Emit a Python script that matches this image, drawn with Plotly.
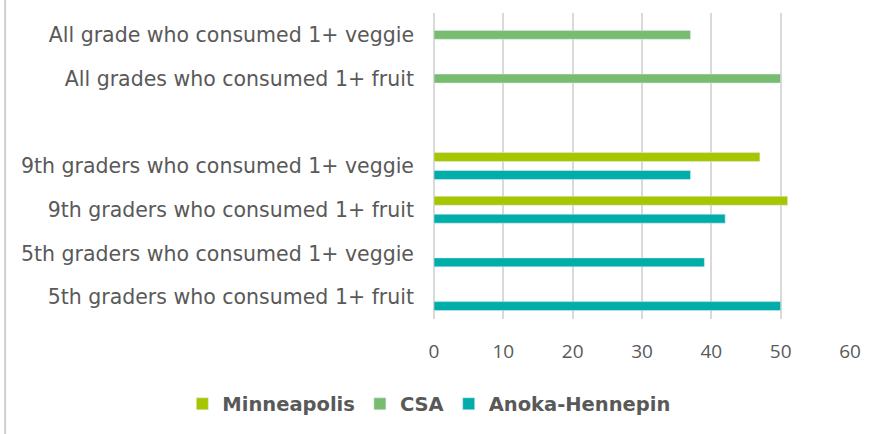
import plotly.graph_objects as go

# categories bottom -> top (blank row separates the two groups)
categories = [
    "5th graders who consumed 1+ fruit",
    "5th graders who consumed 1+ veggie",
    "9th graders who consumed 1+ fruit",
    "9th graders who consumed 1+ veggie",
    " ",
    "All grades who consumed 1+ fruit",
    "All grade who consumed 1+ veggie",
]
minneapolis = [None, None, 51, 47, None, None, None]
csa = [None, None, None, None, None, 50, 37]
anoka_hennepin = [50, 39, 42, 37, None, None, None]
x_ticks = [0, 10, 20, 30, 40, 50, 60]

text_col = "#595959"
grid_col = "#D9D9D9"

fig = go.Figure()
# horizontal groups stack first trace at the bottom
fig.add_trace(go.Bar(y=categories, x=anoka_hennepin, name="Anoka-Hennepin",
                     orientation="h", marker_color="#00ADA9"))
fig.add_trace(go.Bar(y=categories, x=csa, name="CSA",
                     orientation="h", marker_color="#78BD6F"))
fig.add_trace(go.Bar(y=categories, x=minneapolis, name="Minneapolis",
                     orientation="h", marker_color="#A6C600"))

fig.update_layout(
    width=882, height=434,
    margin=dict(l=434, r=32, t=13, b=114),
    barmode="group", bargap=0.385, bargroupgap=0,
    paper_bgcolor="white", plot_bgcolor="white",
    font=dict(family="DejaVu Sans", color=text_col),
    legend=dict(orientation="h", traceorder="reversed",
                x=-0.605, xanchor="left", y=-0.274, yanchor="middle",
                font=dict(size=19.5, weight="bold", color=text_col)),
    showlegend=True,
)
fig.update_xaxes(range=[0, 60], tickvals=x_ticks, showgrid=True, gridcolor=grid_col,
                 gridwidth=1.5, zeroline=True, zerolinecolor=grid_col, zerolinewidth=1.5,
                 tickfont=dict(family="Open Sans", size=19, color=text_col),
                 ticklabelstandoff=19, automargin=False, fixedrange=True)
fig.update_yaxes(categoryorder="array", categoryarray=categories, showgrid=False,
                 tickfont=dict(size=20.5, color=text_col), ticklabelstandoff=19,
                 automargin=False, fixedrange=True)

# thin chart-area border on the left
fig.add_shape(type="line", xref="paper", yref="paper", x0=-1.031, x1=-1.031,
              y0=-0.38, y1=1.05, line=dict(color="#D0D0D0", width=2))

# drop the page's default body margin so the figure sits at the window corner
fig.write_html("out.html", config={"displayModeBar": False},
               post_script="document.body.style.margin='0';")
